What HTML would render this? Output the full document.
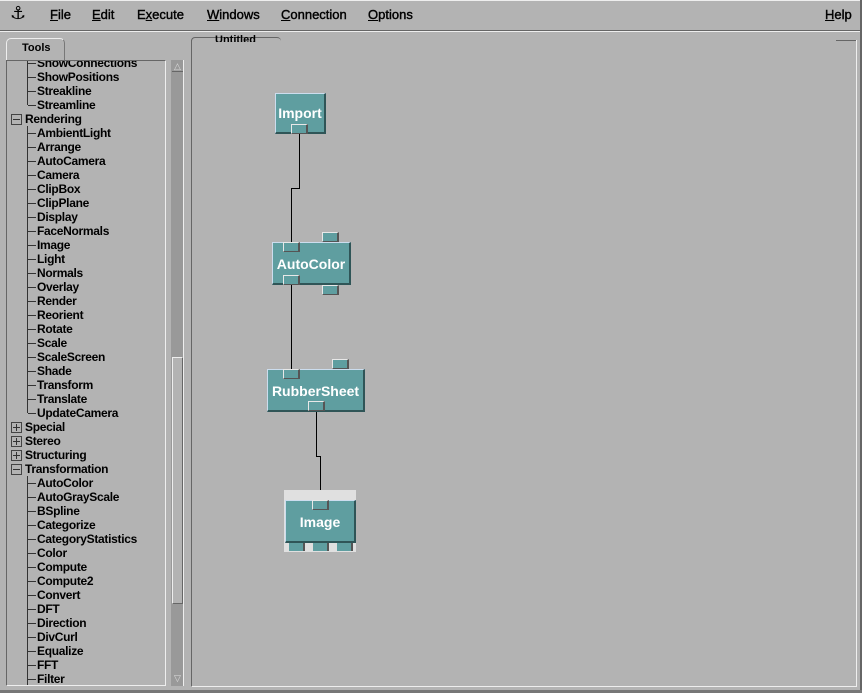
<!DOCTYPE html>
<html><head><meta charset="utf-8"><style>
*{margin:0;padding:0;box-sizing:border-box}
body{width:862px;height:693px;background:#b3b3b3;position:relative;overflow:hidden;font-family:"Liberation Sans",sans-serif;font-weight:bold;font-size:12px;color:#000}
.a{position:absolute}
.m{position:absolute;top:7px;font-size:13px;font-weight:normal;-webkit-text-stroke:0.4px #000}
.m u{text-decoration:underline}
.r{position:absolute;height:14px;line-height:14px;white-space:nowrap;letter-spacing:-0.3px}
.h{position:absolute;height:1px;background:#333;width:8px;left:28px}
.bx{position:absolute;left:11px;width:11px;height:11px;border:1px solid #444;background:#b3b3b3}
.bx:before{content:"";position:absolute;left:1px;top:4px;width:7px;height:1px;background:#333}
.pl:after{content:"";position:absolute;left:4px;top:1px;width:1px;height:7px;background:#333}
.n{position:absolute;background:#5f9ea0;border-top:1px solid #cde;border-left:1px solid #cde;border-right:2px solid #2f5557;border-bottom:2px solid #2f5557;color:#fff;text-align:center;font-size:14px}
.p{position:absolute;width:17px;height:10px;background:#5f9ea0;border-top:1px solid #e8e8e8;border-left:1px solid #e8e8e8;border-right:2px solid #555;border-bottom:1px solid #555}
.w{position:absolute;background:#000;width:1px}
.hz{position:absolute;background:#000;height:1px}
</style></head><body>
<div class="a" style="left:0;top:0;width:862px;height:1px;background:#eee"></div>
<div class="a" style="left:10px;top:3px;font-size:18px;font-weight:normal;color:#000;font-family:'DejaVu Sans',sans-serif">⚓</div>
<div class="m" style="left:50px"><u>F</u>ile</div>
<div class="m" style="left:92px"><u>E</u>dit</div>
<div class="m" style="left:137px">E<u>x</u>ecute</div>
<div class="m" style="left:207px"><u>W</u>indows</div>
<div class="m" style="left:281px"><u>C</u>onnection</div>
<div class="m" style="left:368px"><u>O</u>ptions</div>
<div class="m" style="left:825px"><u>H</u>elp</div>
<div class="a" style="left:0;top:30px;width:862px;height:1px;background:#666"></div>
<div class="a" style="left:0;top:31px;width:862px;height:1px;background:#eee"></div>
<div class="a" style="left:860px;top:0;width:2px;height:693px;background:#666"></div>
<div class="a" style="left:0;top:690px;width:862px;height:3px;background:#777"></div>

<div class="a" style="left:6px;top:38px;width:59px;height:24px;border:1px solid #eee;border-bottom:none;border-right:1px solid #777;border-radius:5px 5px 0 0"></div>
<div class="a" style="left:22px;top:42px;font-size:11px">Tools</div>
<div class="a" style="left:6px;top:60px;width:160px;height:626px;border-top:1px solid #666;border-left:1px solid #666;border-right:1px solid #eee;border-bottom:1px solid #eee;overflow:hidden">
<div style="position:absolute;left:-7px;top:-60px;width:200px;height:700px">
<div class="a" style="left:27px;top:55px;width:1px;height:49px;background:#333"></div>
<div class="a" style="left:27px;top:125px;width:1px;height:287px;background:#333"></div>
<div class="a" style="left:27px;top:475px;width:1px;height:230px;background:#333"></div>
<div id="t"></div>
</div></div>
<div class="a" style="left:171px;top:60px;width:13px;height:626px;background:#999;border-right:1px solid #eee"></div>
<div class="a" style="left:172px;top:61px;width:11px;height:11px;border-bottom:1px solid #666;font-size:9px;color:#ddd;text-align:center;line-height:10px;font-weight:normal">△</div>
<div class="a" style="left:172px;top:357px;width:11px;height:247px;background:#b3b3b3;border-top:1px solid #eee;border-left:1px solid #eee;border-right:1px solid #666;border-bottom:1px solid #666"></div>
<div class="a" style="left:172px;top:673px;width:11px;height:11px;font-size:9px;color:#ddd;text-align:center;line-height:10px;font-weight:normal">▽</div>

<div class="a" style="left:191px;top:40px;width:666px;height:647px;border-left:1px solid #666;border-right:1px solid #eee;border-bottom:1px solid #eee"></div>
<div class="a" style="left:191px;top:37px;width:90px;height:10px;border-top:1px solid #666;border-left:1px solid #666;border-radius:4px 4px 0 0"></div>
<div class="a" style="left:215px;top:32px;font-size:11px;height:10px;overflow:hidden;line-height:17px">Untitled</div>
<div class="a" style="left:836px;top:40px;width:20px;height:1px;background:#666"></div>

<div class="w" style="left:299px;top:133px;height:55px"></div>
<div class="hz" style="left:291px;top:188px;width:9px"></div>
<div class="w" style="left:291px;top:188px;height:54px"></div>
<div class="w" style="left:291px;top:284px;height:85px"></div>
<div class="w" style="left:316px;top:410px;height:46px"></div>
<div class="hz" style="left:316px;top:456px;width:5px"></div>
<div class="w" style="left:320px;top:456px;height:44px"></div>

<div class="n" style="left:275px;top:93px;width:51px;height:41px;line-height:38px">Import</div>
<div class="p" style="left:291px;top:124px"></div>

<div class="p" style="left:322px;top:232px"></div>
<div class="n" style="left:272px;top:242px;width:79px;height:43px;line-height:42px">AutoColor</div>
<div class="p" style="left:283px;top:242px"></div>
<div class="p" style="left:283px;top:275px"></div>
<div class="p" style="left:322px;top:285px"></div>

<div class="p" style="left:332px;top:359px"></div>
<div class="n" style="left:267px;top:369px;width:98px;height:43px;line-height:42px">RubberSheet</div>
<div class="p" style="left:283px;top:369px"></div>
<div class="p" style="left:308px;top:401px"></div>

<div class="a" style="left:284px;top:490px;width:72px;height:62px;background:#e0e0e0"></div>
<div class="n" style="left:285px;top:500px;width:71px;height:43px;line-height:42px">Image</div>
<div class="p" style="left:312px;top:500px"></div>
<div class="a" style="left:289px;top:543px;width:16px;height:8px;background:#5f9ea0;border-right:2px solid #555"></div>
<div class="a" style="left:313px;top:543px;width:16px;height:8px;background:#5f9ea0;border-right:2px solid #555"></div>
<div class="a" style="left:337px;top:543px;width:16px;height:8px;background:#5f9ea0;border-right:2px solid #555"></div>

<script>
var items=[["ShowConnections",1],["ShowPositions",1],["Streakline",1],["Streamline",1],["Rendering",0,"-"],
"AmbientLight Arrange AutoCamera Camera ClipBox ClipPlane Display FaceNormals Image Light Normals Overlay Render Reorient Rotate Scale ScaleScreen Shade Transform Translate UpdateCamera".split(" ").map(function(s){return [s,1]}),
["Special",0,"+"],["Stereo",0,"+"],["Structuring",0,"+"],["Transformation",0,"-"],
"AutoColor AutoGrayScale BSpline Categorize CategoryStatistics Color Compute Compute2 Convert DFT Direction DivCurl Equalize FFT Filter".split(" ").map(function(s){return [s,1]})];
var flat=[];items.forEach(function(x){if(Array.isArray(x[0]))flat=flat.concat(x);else flat.push(x)});
var h="";flat.forEach(function(it,i){var c=62+14*i;
if(it[1]){h+='<div class="h" style="top:'+c+'px"></div><div class="r" style="left:37px;top:'+(c-7)+'px">'+it[0]+'</div>';}
else{h+='<div class="bx'+(it[2]=="+"?" pl":"")+'" style="top:'+(c-5)+'px"></div><div class="r" style="left:25px;top:'+(c-7)+'px">'+it[0]+'</div>';}
});
document.getElementById("t").innerHTML=h;
</script>
</body></html>
